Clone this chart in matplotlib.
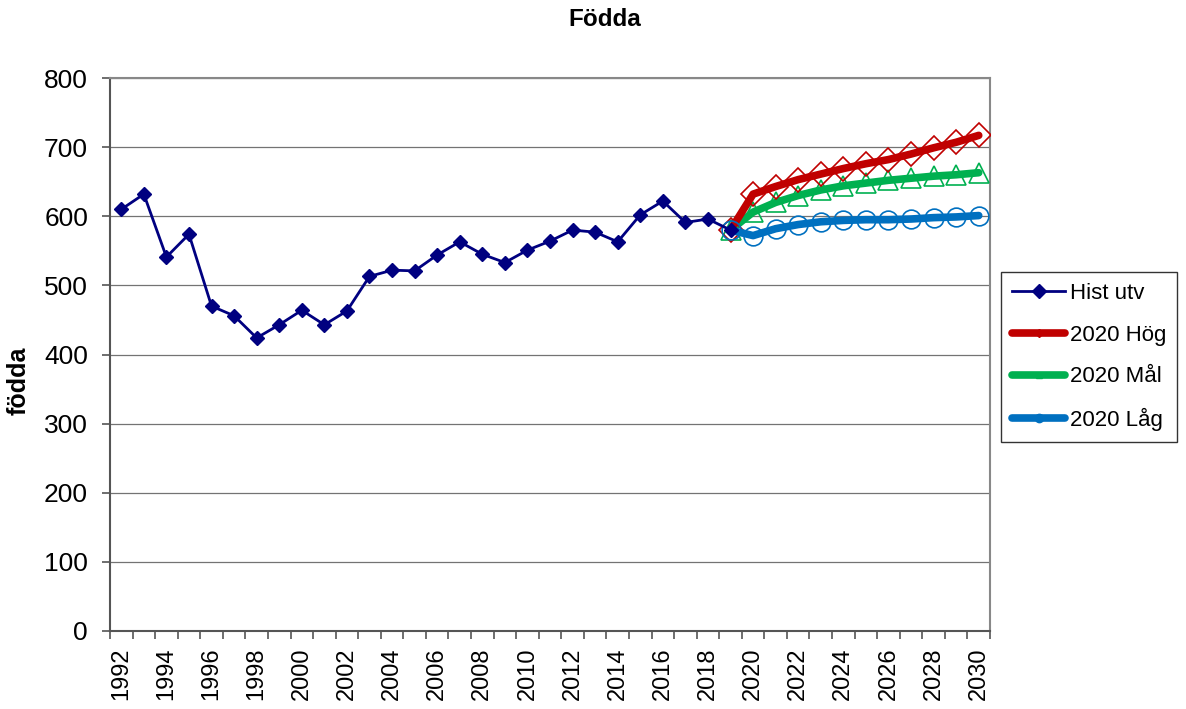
import matplotlib
matplotlib.use("Agg")
import matplotlib.pyplot as plt
from matplotlib.lines import Line2D

plt.rcParams['font.family'] = ['Liberation Sans', 'DejaVu Sans']

hist_years = list(range(1992, 2020))
hist_vals = [610, 632, 541, 574, 470, 456, 424, 443, 464, 443, 463, 513, 522, 521,
             544, 563, 545, 533, 551, 564, 580, 577, 563, 602, 622, 591, 596, 580]

proj_years = list(range(2019, 2031))
hog_vals = [580, 632, 643, 653, 661, 669, 676, 682, 690, 699, 707, 717]
mal_vals = [580, 606, 620, 630, 638, 644, 648, 652, 655, 658, 660, 663]
lag_vals = [580, 572, 582, 588, 592, 594, 595, 595, 596, 598, 599, 601]

tick_labels = [str(y) for y in range(1992, 2031, 2)]

fig = plt.figure(figsize=(11.86, 7.09), dpi=100)
ax = fig.add_axes([110/1186, 1-631/709, 880/1186, 553/709])

for v in range(100, 900, 100):
    ax.axhline(v, color='#000000', lw=0.9, alpha=0.55, zorder=1)

ax.plot(hist_years, hist_vals, color='#000080', lw=2, marker='D', ms=7.5,
        mfc='#000080', mec='#000080', zorder=5)
ax.plot(proj_years, hog_vals, color='#C00000', lw=5.5, marker='D', ms=12,
        mfc='none', mec='#C00000', mew=1.2, zorder=4, solid_capstyle='round')
ax.plot(proj_years, mal_vals, color='#00B050', lw=5.5, marker='^', ms=14,
        mfc='none', mec='#00B050', mew=1.2, zorder=3, solid_capstyle='round')
ax.plot(proj_years, lag_vals, color='#0070C0', lw=5.5, marker='o', ms=13.5,
        mfc='none', mec='#0070C0', mew=1.2, zorder=4, solid_capstyle='round')

ax.set_xlim(1991.5, 2030.5)
ax.set_ylim(0, 800)
ax.set_yticks(range(0, 900, 100))
ax.tick_params(axis='y', labelsize=19, length=5.8, width=1.2, direction='out',
               color='#555555', pad=10)
ax.set_xticks(list(range(1992, 2031, 2)))
ax.set_xticklabels(tick_labels, rotation=90, fontsize=17)
ax.set_xticks([y + 0.5 for y in range(1991, 2031)], minor=True)
ax.tick_params(axis='x', which='major', length=0, pad=12)
ax.tick_params(axis='x', which='minor', length=5.8, width=1.2, color='#555555')

for side in ['top', 'right']:
    ax.spines[side].set_color('#888888')
    ax.spines[side].set_linewidth(1.5)
ax.spines['left'].set_color('#555555')
ax.spines['left'].set_linewidth(1.5)
ax.spines['bottom'].set_color('#555555')
ax.spines['bottom'].set_linewidth(1.5)

fig.text(19/1186, 1-381/709, 'födda', ha='center', va='center', rotation=90,
         fontsize=18, fontweight='bold')
fig.text(605/1186, 1-20/709, 'Födda', ha='center', va='center', fontsize=17.5,
         fontweight='bold')

handles = [
    Line2D([], [], color='#000080', lw=2, marker='D', ms=7, mfc='#000080'),
    Line2D([], [], color='#C00000', lw=5.5, marker='D', ms=4, mfc='#C00000', mec='#C00000', solid_capstyle='round'),
    Line2D([], [], color='#00B050', lw=5.5, marker='^', ms=4, mfc='#00B050', mec='#00B050', solid_capstyle='round'),
    Line2D([], [], color='#0070C0', lw=5.5, marker='o', ms=6, mfc='#0070C0', mec='#0070C0', solid_capstyle='round'),
]
labels = ['Hist utv', '2020 Hög', '2020 Mål', '2020 Låg']
leg = fig.legend(handles, labels, loc='upper left',
                 bbox_to_anchor=(1001/1186, 1-272/709), fontsize=16,
                 frameon=True, fancybox=False, edgecolor='#000000',
                 handlelength=2.4, handletextpad=0.2, labelspacing=0.93,
                 borderpad=0.5, borderaxespad=0)
leg.get_frame().set_linewidth(1.0)

fig.savefig('out.png', dpi=100)
